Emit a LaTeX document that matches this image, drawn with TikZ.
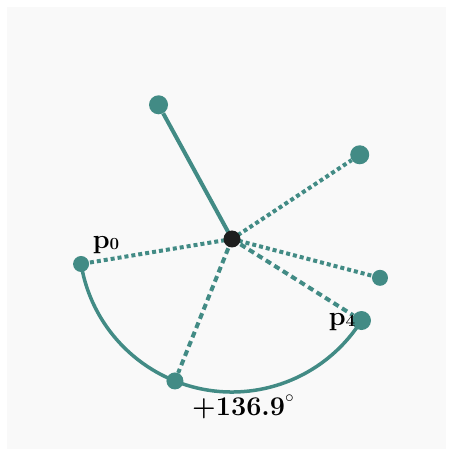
\documentclass[tikz,border=0pt]{standalone}
\usetikzlibrary{calc}
\definecolor{teal1}{HTML}{428B85}
\definecolor{dark1}{HTML}{1E1E1E}
\definecolor{bg1}{HTML}{F9F9F9}
\begin{document}
\begin{tikzpicture}[x=1pt,y=1pt,
  dot/.style={circle,fill=teal1,inner sep=0pt,minimum size=#1},
  dot/.default=16pt,
  solidline/.style={teal1,line width=4pt},
  dotline/.style={teal1,line width=4pt,dash pattern=on 4pt off 3pt},
  dashline/.style={teal1,line width=4pt,dash pattern=on 6pt off 4pt},
  lbl/.style={font=\bfseries\fontsize{27}{30}\selectfont,inner sep=0pt}]
\useasboundingbox (0,0) rectangle (453,456);
\fill[white] (0,0) rectangle (453,456);
\fill[bg1] (7,7) rectangle (446,449);
\coordinate (c0) at (232,217);
\node[dot=19pt] (A) at ($(c0)+(118.7:153)$) {};
\node[dot=19pt] (B) at ($(c0)+(33.4:153)$) {};
\node[dot=16pt] (E) at ($(c0)+(-14.7:153)$) {};
\node[dot=19pt] (P4) at ($(c0)+(-32.2:153)$) {};
\node[dot=17pt] (BOT) at ($(c0)+(248.1:153)$) {};
\node[dot=16pt] (P0) at ($(c0)+(189.4:153)$) {};
\draw[teal1,line width=3.5pt] ($(c0)+(189.4:153)$) arc[start angle=189.4,end angle=327.8,radius=153];
\draw[solidline] (c0) -- (A);
\draw[dotline] (c0) -- (B);
\draw[dotline] (c0) -- (E);
\draw[dashline] (c0) -- (P4);
\draw[dashline] (c0) -- (BOT);
\draw[dotline] (c0) -- (P0);
\node[circle,fill=dark1,inner sep=0pt,minimum size=17pt] (C) at (c0) {};
\node[lbl] (L0) at (106,211) {p\raisebox{-0.05ex}{\fontsize{17}{19}\selectfont 0}};
\node[lbl] (L4) at (342,134) {p\raisebox{-0.05ex}{\fontsize{17}{19}\selectfont 4}};
\node[lbl] (ANG) at (243,49) {+136.9\raisebox{1.1ex}{\fontsize{16}{18}\selectfont$\circ$}};
\end{tikzpicture}
\end{document}
